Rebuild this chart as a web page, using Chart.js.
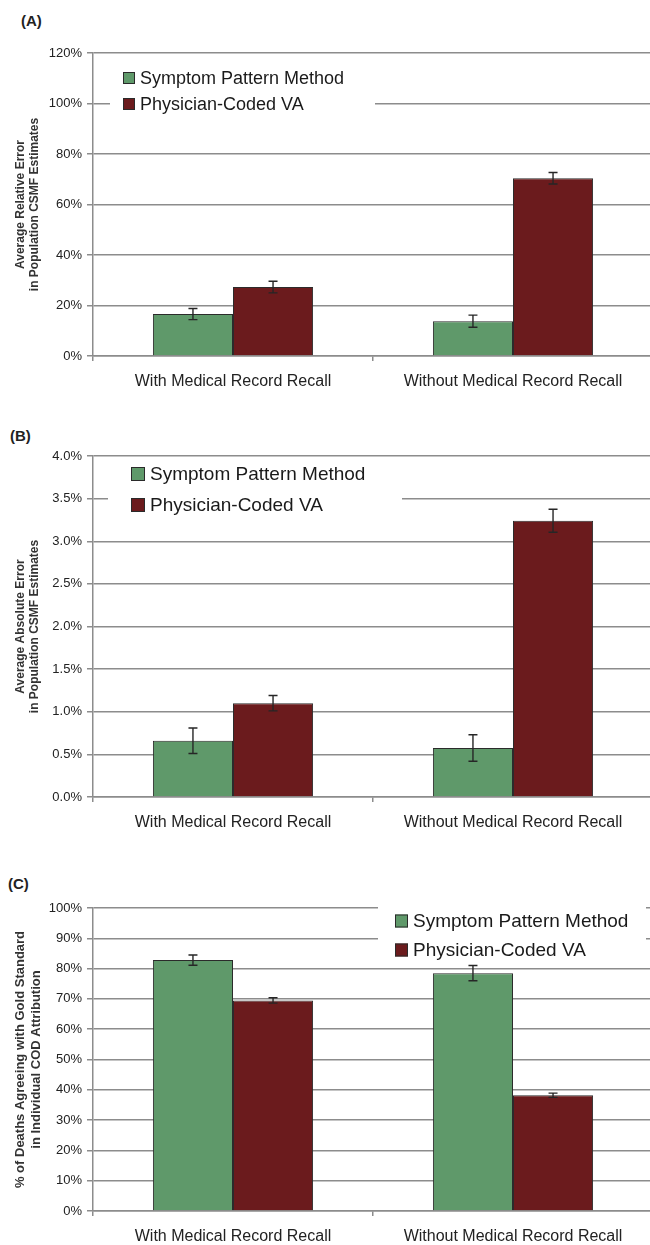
<!DOCTYPE html>
<html>
<head>
<meta charset="utf-8">
<script src="https://cdn.jsdelivr.net/npm/chart.js@4.4.1/dist/chart.umd.min.js"></script>
<style>
  html, body { margin: 0; padding: 0; background: #fff; overflow: hidden; width: 650px; height: 1245px; }
  .tag { position: absolute; font: bold 15px "Liberation Sans", Arial, sans-serif; color: #222; }
  canvas { position: absolute; left: 0; }
</style>
</head>
<body>
<div class="tag" style="left:21px;top:12px">(A)</div>
<div class="tag" style="left:10px;top:427px">(B)</div>
<div class="tag" style="left:8px;top:875px">(C)</div>
<canvas id="chartA" width="660" height="400" style="top:0"></canvas>
<canvas id="chartB" width="660" height="440" style="top:400px"></canvas>
<canvas id="chartC" width="660" height="405" style="top:840px"></canvas>
<script>
const categories = ['With Medical Record Recall', 'Without Medical Record Recall'];
const seriesNames = ['Symptom Pattern Method', 'Physician-Coded VA'];

// (A) average relative error in population CSMF estimates, percent
const relErrSymptom = [16.6, 13.8];
const relErrSymptomCI = [2.2, 2.4];
const relErrPhysician = [27.3, 70.4];
const relErrPhysicianCI = [2.3, 2.3];
const relErrTicks = ['0%', '20%', '40%', '60%', '80%', '100%', '120%'];

// (B) average absolute error in population CSMF estimates, percent
const absErrSymptom = [0.66, 0.575];
const absErrSymptomCI = [0.15, 0.155];
const absErrPhysician = [1.10, 3.24];
const absErrPhysicianCI = [0.09, 0.135];
const absErrTicks = ['0.0%', '0.5%', '1.0%', '1.5%', '2.0%', '2.5%', '3.0%', '3.5%', '4.0%'];

// (C) deaths agreeing with gold standard cause, percent
const agreeSymptom = [82.8, 78.5];
const agreeSymptomCI = [1.7, 2.5];
const agreePhysician = [69.5, 38.2];
const agreePhysicianCI = [0.9, 0.7];
const agreeTicks = ['0%', '10%', '20%', '30%', '40%', '50%', '60%', '70%', '80%', '90%', '100%'];

const FONT = '"Liberation Sans", Arial, sans-serif';
const GREEN = '#5f996a';
const MAROON = '#6b1b1d';
const EDGE = '#2b2b2b';
const GRID = '#8c8c8c';

// whiskers drawn from each dataset's "errors" array
const errorBars = {
  id: 'errorBars',
  afterDatasetsDraw(chart) {
    const ctx = chart.ctx, y = chart.scales.y;
    chart.data.datasets.forEach((ds, di) => {
      chart.getDatasetMeta(di).data.forEach((bar, i) => {
        const v = ds.data[i], e = ds.errors[i];
        const hi = y.getPixelForValue(v + e), lo = y.getPixelForValue(v - e);
        ctx.save();
        ctx.strokeStyle = '#262626';
        ctx.lineWidth = 1.4;
        ctx.beginPath();
        ctx.moveTo(bar.x, hi); ctx.lineTo(bar.x, lo);
        ctx.moveTo(bar.x - 4.5, hi); ctx.lineTo(bar.x + 4.5, hi);
        ctx.moveTo(bar.x - 4.5, lo); ctx.lineTo(bar.x + 4.5, lo);
        ctx.stroke();
        ctx.restore();
      });
    });
  }
};

// legend in a white box inside the plot, over the gridlines
const boxLegend = {
  id: 'boxLegend',
  beforeDatasetsDraw(chart, args, o) {
    const ctx = chart.ctx;
    ctx.save();
    ctx.fillStyle = '#fff';
    ctx.fillRect(o.left, o.top, o.right - o.left, o.bottom - o.top);
    ctx.font = o.fontSize + 'px ' + FONT;
    ctx.textBaseline = 'middle';
    ctx.textAlign = 'left';
    chart.data.datasets.forEach((ds, i) => {
      const cy = o.rows[i], s = o.box;
      ctx.fillStyle = ds.backgroundColor;
      ctx.fillRect(o.x, cy - s / 2, s, s);
      ctx.strokeStyle = '#2a2a2a';
      ctx.lineWidth = 1;
      ctx.strokeRect(o.x + 0.5, cy - s / 2 + 0.5, s - 1, s - 1);
      ctx.fillStyle = '#1a1a1a';
      ctx.fillText(ds.label, o.x + s + o.gap, cy + 1);
    });
    ctx.restore();
  }
};

function makeChart(id, c) {
  return new Chart(document.getElementById(id), {
    type: 'bar',
    data: {
      labels: categories,
      datasets: [
        { label: seriesNames[0], data: c.a, errors: c.aErr, backgroundColor: GREEN, borderColor: EDGE, borderWidth: 1 },
        { label: seriesNames[1], data: c.b, errors: c.bErr, backgroundColor: MAROON, borderColor: EDGE, borderWidth: 1 }
      ]
    },
    options: {
      responsive: false,
      animation: false,
      layout: { padding: { top: c.top, right: 7, left: 0, bottom: 0 } },
      datasets: { bar: { categoryPercentage: 0.572, barPercentage: 1 } },
      plugins: {
        legend: { display: false },
        tooltip: { enabled: false },
        boxLegend: c.legend
      },
      scales: {
        x: {
          grid: { offset: true, drawOnChartArea: false, drawTicks: true, tickLength: 5, color: GRID, lineWidth: 1.5 },
          border: { display: true, color: GRID, width: 1.5 },
          ticks: { color: '#222', font: { size: 16, family: FONT }, padding: 11, maxRotation: 0, autoSkip: false },
          afterFit: s => { s.height = c.xh; }
        },
        y: {
          min: 0, max: c.max,
          ticks: { stepSize: c.step, callback: (v, i) => c.ticks[i], color: '#222', font: { size: 13, family: FONT }, padding: 5 },
          grid: { color: GRID, lineWidth: 1.5, tickLength: 6 },
          border: { color: GRID, width: 1.5 },
          title: { display: true, text: c.title, color: '#333', font: { size: c.titleSize, weight: 'bold', family: FONT, lineHeight: 1.2 }, padding: { top: 13 } },
          afterFit: s => { s.width = 93; }
        }
      }
    },
    plugins: [boxLegend, errorBars]
  });
}

makeChart('chartA', {
  a: relErrSymptom, aErr: relErrSymptomCI, b: relErrPhysician, bErr: relErrPhysicianCI,
  max: 120, step: 20, ticks: relErrTicks, top: 53, xh: 44, titleSize: 12,
  title: ['Average Relative Error', 'in Population CSMF Estimates'],
  legend: { left: 110, right: 375, top: 62, bottom: 118, x: 123, rows: [78, 104], box: 12, gap: 5, fontSize: 18 }
});

makeChart('chartB', {
  a: absErrSymptom, aErr: absErrSymptomCI, b: absErrPhysician, bErr: absErrPhysicianCI,
  max: 4.0, step: 0.5, ticks: absErrTicks, top: 56, xh: 43, titleSize: 12,
  title: ['Average Absolute Error', 'in Population CSMF Estimates'],
  legend: { left: 108, right: 402, top: 58, bottom: 121, x: 131, rows: [74, 105], box: 14, gap: 5, fontSize: 19 }
});

makeChart('chartC', {
  a: agreeSymptom, aErr: agreeSymptomCI, b: agreePhysician, bErr: agreePhysicianCI,
  max: 100, step: 10, ticks: agreeTicks, top: 68, xh: 34, titleSize: 13,
  title: ['% of Deaths Agreeing with Gold Standard', 'in Individual COD Attribution'],
  legend: { left: 378, right: 646, top: 60, bottom: 124, x: 395, rows: [81, 110], box: 13, gap: 5, fontSize: 19 }
});
</script>
</body>
</html>
